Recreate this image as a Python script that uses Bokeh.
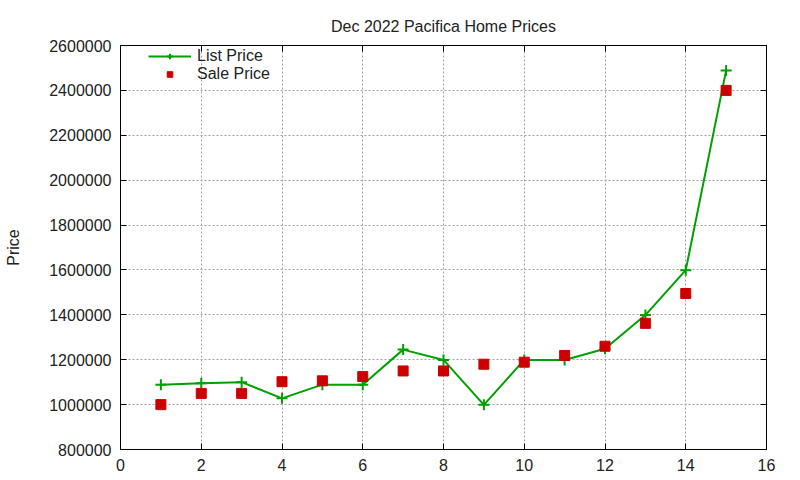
from bokeh.plotting import figure
from bokeh.models import (Range1d, SingleIntervalTicker, LinearAxis, BasicTickFormatter,
                          CustomJSTickFormatter, Legend, LegendItem, ColumnDataSource)
from bokeh.embed import file_html
from bokeh.resources import INLINE

# Data
house = [1, 2, 3, 4, 5, 6, 7, 8, 9, 10, 11, 12, 13, 14, 15]
list_price = [1089000, 1095000, 1100000, 1028000, 1089000, 1089000, 1245000, 1199000,
              999000, 1199000, 1199000, 1249000, 1399000, 1599000, 2489000]
sale_price = [1000000, 1050000, 1050000, 1102000, 1106000, 1125000, 1150000, 1150000,
              1180000, 1189000, 1219000, 1260000, 1362000, 1495000, 2400000]

FONT = "Liberation Sans"
FS = "16px"

src = ColumnDataSource(dict(x=house, lp=list_price, sp=sale_price))

p = figure(width=800, height=480, output_backend="svg", toolbar_location=None,
           x_range=Range1d(0, 16), y_range=Range1d(800000, 2600000),
           min_border_left=120, min_border_right=34, min_border_top=45, min_border_bottom=31)

p.title.text = "Dec 2022 Pacifica Home Prices"
p.title.align = "center"
p.title.text_font = FONT
p.title.text_font_size = FS
p.title.text_font_style = "normal"
p.title.text_color = "#222222"
p.title.standoff = 22

p.outline_line_color = "black"
p.outline_line_width = 1
p.outline_line_alpha = 1

xt = SingleIntervalTicker(interval=2)
yt = SingleIntervalTicker(interval=200000)

p.xaxis.ticker = xt
p.yaxis.ticker = yt
p.yaxis.formatter = BasicTickFormatter(use_scientific=False)
p.yaxis.axis_label = "Price"
p.yaxis.axis_label_text_font = FONT
p.yaxis.axis_label_text_font_size = FS
p.yaxis.axis_label_text_font_style = "normal"
p.yaxis.axis_label_text_color = "#222222"
p.yaxis.axis_label_standoff = 24

for ax in (p.xaxis[0], p.yaxis[0]):
    ax.major_tick_in = 6
    ax.major_tick_out = 0
    ax.minor_tick_in = 0
    ax.minor_tick_out = 0
    ax.axis_line_color = "black"
    ax.major_tick_line_color = "black"
    ax.major_label_text_font = FONT
    ax.major_label_text_font_size = FS
    ax.major_label_text_color = "#222222"
    ax.major_label_standoff = 9

blank = CustomJSTickFormatter(code="return '';")
for loc, tk in (("right", yt), ("above", xt)):
    ax = LinearAxis(ticker=tk, formatter=blank, major_tick_in=6, major_tick_out=0,
                    minor_tick_in=0, minor_tick_out=0, major_label_standoff=0,
                    major_label_text_font_size="1px", axis_line_color="black")
    p.add_layout(ax, loc)

p.xgrid.ticker = xt
p.ygrid.ticker = yt
for g in (p.xgrid[0], p.ygrid[0]):
    g.grid_line_color = "#a0a0a0"
    g.grid_line_dash = "2 2"
    g.grid_line_width = 1

GREEN = "#00a000"
RED = "#cc0000"

l1 = p.line("x", "lp", source=src, line_color=GREEN, line_width=2)
m1 = p.scatter("x", "lp", source=src, marker="cross", size=11, line_color=GREEN, line_width=2)
s1 = p.scatter("x", "sp", source=src, marker="square", size=10, fill_color=RED, line_color=RED)

legend = Legend(items=[LegendItem(label="List Price", renderers=[l1, m1]),
                       LegendItem(label="Sale Price", renderers=[s1])],
                location=(28, 366), glyph_width=43, glyph_height=14, label_height=14,
                spacing=-3, padding=0, margin=0, background_fill_alpha=0,
                border_line_color=None, label_text_font=FONT, label_text_font_size=FS,
                label_text_color="#222222", label_standoff=6)
p.add_layout(legend)

open("out.html", "w").write(file_html(p, INLINE))
